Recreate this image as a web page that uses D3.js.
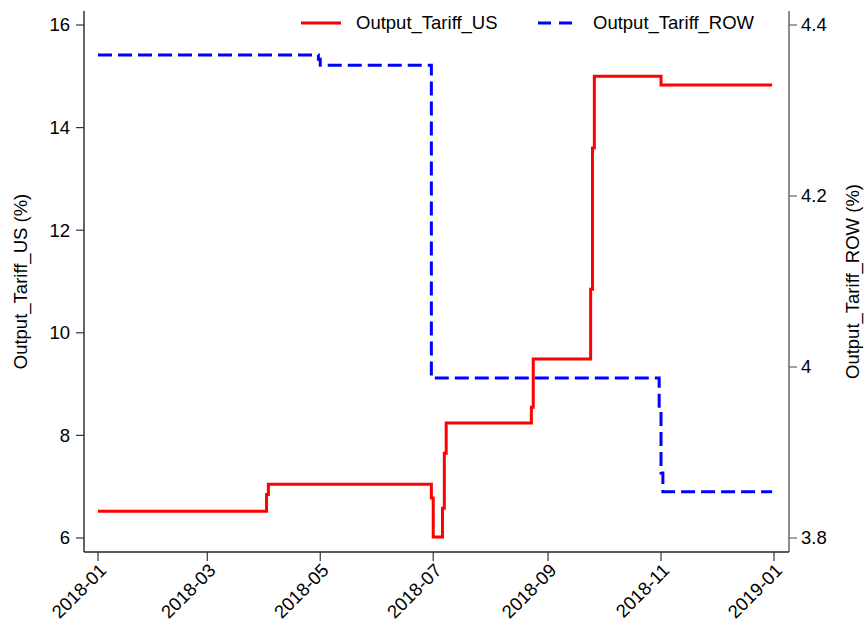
<!DOCTYPE html>
<html>
<head>
<meta charset="utf-8">
<script src="https://cdn.jsdelivr.net/npm/d3@7"></script>
<style>
  html, body { margin: 0; padding: 0; background: #fff; }
  svg { display: block; font-family: "Liberation Sans", Arial, sans-serif; }
</style>
</head>
<body>
<svg id="chart" width="864" height="622"></svg>
<script>
// Output tariffs: US (left axis) and rest of world (right axis), as change points.
const usDates   = ["2018-01-01","2018-04-02","2018-04-03","2018-06-30","2018-07-01","2018-07-06","2018-07-07","2018-07-08","2018-08-23","2018-08-24","2018-09-24","2018-09-25","2018-09-26","2018-11-01","2018-12-31"];
const usValues  = [6.52, 6.85, 7.05, 6.78, 6.02, 6.58, 7.65, 8.24, 8.55, 9.49, 10.85, 13.6, 15.0, 14.83, 14.83];

const rowDates  = ["2018-01-01","2018-04-30","2018-05-01","2018-06-30","2018-10-31","2018-11-01","2018-11-02","2018-12-31"];
const rowValues = [4.365, 4.360, 4.353, 3.987, 3.950, 3.876, 3.854, 3.854];

const leftTicks  = [6, 8, 10, 12, 14, 16];
const rightTicks = [3.8, 4.0, 4.2, 4.4];
const seriesNames = ["Output_Tariff_US", "Output_Tariff_ROW"];
const axisTitles  = ["Output_Tariff_US (%)", "Output_Tariff_ROW (%)"];

const parse = d3.utcParse("%Y-%m-%d");
const usData  = usDates.map((d, i) => ({ date: parse(d), value: usValues[i] }));
const rowData = rowDates.map((d, i) => ({ date: parse(d), value: rowValues[i] }));

const svg = d3.select("#chart");
const plot = { left: 84, right: 789, top: 11, bottom: 552 };

const x = d3.scaleUtc()
  .domain([parse("2018-01-01"), parse("2019-01-01")])
  .range([98, 774]);
const yL = d3.scaleLinear().domain([6, 16]).range([538, 25]);
const yR = d3.scaleLinear().domain([3.8, 4.4]).range([538, 25]);

const fontSize = 18.5;

// Left axis
const gL = svg.append("g").attr("transform", `translate(${plot.left},0)`);
gL.append("line").attr("y1", plot.top).attr("y2", plot.bottom)
  .attr("stroke", "#333").attr("stroke-width", 1.5);
leftTicks.forEach(t => {
  gL.append("line").attr("x1", -8).attr("x2", 0).attr("y1", yL(t)).attr("y2", yL(t))
    .attr("stroke", "#333").attr("stroke-width", 1.2);
  gL.append("text").attr("x", -14).attr("y", yL(t)).attr("dy", "0.35em")
    .attr("text-anchor", "end").attr("font-size", fontSize).attr("fill", "#000").text(t);
});

// Right axis
const gR = svg.append("g").attr("transform", `translate(${plot.right},0)`);
gR.append("line").attr("y1", plot.top).attr("y2", plot.bottom)
  .attr("stroke", "#666").attr("stroke-width", 1.5);
rightTicks.forEach(t => {
  gR.append("line").attr("x1", 0).attr("x2", 8).attr("y1", yR(t)).attr("y2", yR(t))
    .attr("stroke", "#666").attr("stroke-width", 1.2);
  gR.append("text").attr("x", 12).attr("y", yR(t)).attr("dy", "0.35em")
    .attr("text-anchor", "start").attr("font-size", fontSize).attr("fill", "#000")
    .text(d3.format("~g")(t));
});

// Bottom axis
const gB = svg.append("g");
gB.append("line").attr("x1", plot.left).attr("x2", plot.right)
  .attr("y1", plot.bottom).attr("y2", plot.bottom)
  .attr("stroke", "#222").attr("stroke-width", 1.5);
const xTicks = x.ticks(d3.utcMonth.every(2));
const fmt = d3.utcFormat("%Y-%m");
xTicks.forEach(t => {
  const px = x(t);
  gB.append("line").attr("x1", px).attr("x2", px)
    .attr("y1", plot.bottom).attr("y2", plot.bottom + 9)
    .attr("stroke", "#333").attr("stroke-width", 1.2);
  gB.append("text")
    .attr("transform", `translate(${px + 5},${plot.bottom + 15}) rotate(-45)`)
    .attr("text-anchor", "end").attr("dy", "0.35em")
    .attr("font-size", fontSize).attr("fill", "#000").text(fmt(t));
});

// Axis titles
const midY = (plot.top + plot.bottom) / 2;
svg.append("text").attr("transform", `translate(27,${midY}) rotate(-90)`)
  .attr("text-anchor", "middle").attr("font-size", fontSize).text(axisTitles[0]);
svg.append("text").attr("transform", `translate(859,${midY}) rotate(-90)`)
  .attr("text-anchor", "middle").attr("font-size", fontSize).text(axisTitles[1]);

// Series
const lineL = d3.line().x(d => x(d.date)).y(d => yL(d.value)).curve(d3.curveStepAfter);
const lineR = d3.line().x(d => x(d.date)).y(d => yR(d.value)).curve(d3.curveStepAfter);

svg.append("path").datum(rowData).attr("d", lineR)
  .attr("fill", "none").attr("stroke", "#0000ff").attr("stroke-width", 3)
  .attr("stroke-dasharray", "14,6");
svg.append("path").datum(usData).attr("d", lineL)
  .attr("fill", "none").attr("stroke", "#ff0000").attr("stroke-width", 3);

// Legend
const leg = svg.append("g");
leg.append("line").attr("x1", 301).attr("x2", 341).attr("y1", 23).attr("y2", 23)
  .attr("stroke", "#ff0000").attr("stroke-width", 3);
leg.append("text").attr("x", 356).attr("y", 23).attr("dy", "0.35em")
  .attr("font-size", fontSize).text(seriesNames[0]);
leg.append("line").attr("x1", 538).attr("x2", 573).attr("y1", 23).attr("y2", 23)
  .attr("stroke", "#0000ff").attr("stroke-width", 3).attr("stroke-dasharray", "13,8");
leg.append("text").attr("x", 593).attr("y", 23).attr("dy", "0.35em")
  .attr("font-size", fontSize).text(seriesNames[1]);
</script>
</body>
</html>
